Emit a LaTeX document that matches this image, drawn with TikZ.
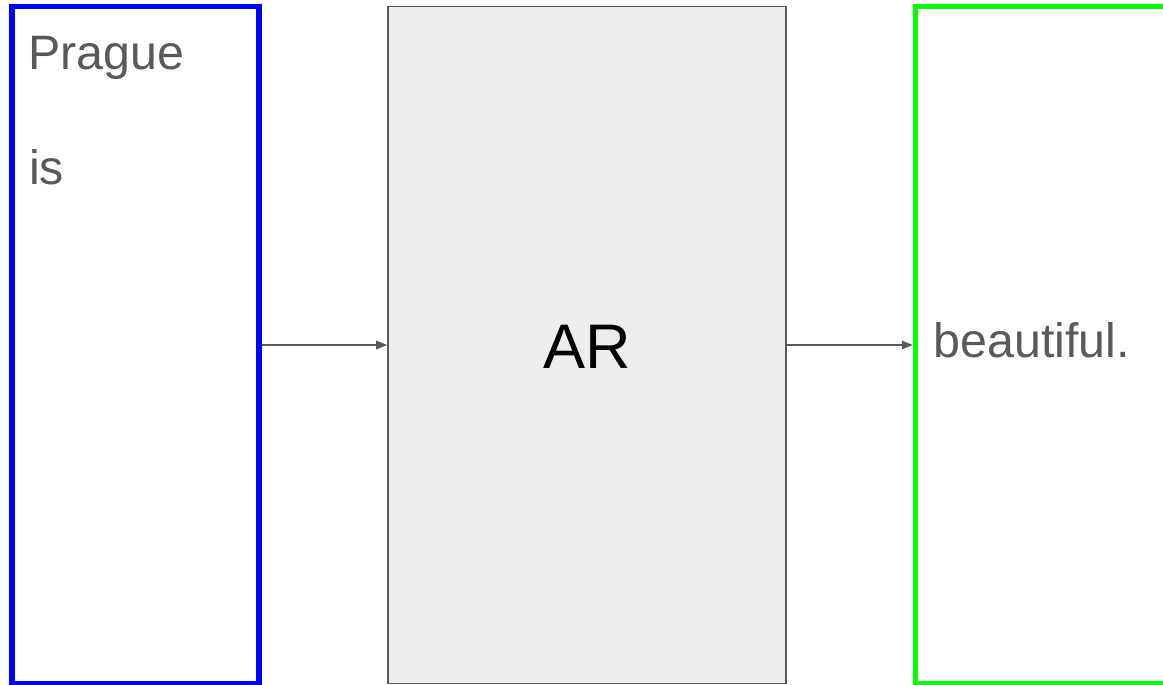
\documentclass[tikz,border=0pt]{standalone}
\usepackage{fontspec}
\setmainfont{Liberation Sans}
\usetikzlibrary{arrows.meta}
\definecolor{txtgray}{HTML}{595959}
\definecolor{boxfill}{HTML}{EDEDED}
\begin{document}
\begin{tikzpicture}[x=1pt,y=-1pt,
  inbox/.style={draw=blue, line width=5.5pt, minimum width=247pt, minimum height=677pt, inner sep=0pt},
  outbox/.style={draw={rgb,255:red,0;green,255;blue,0}, line width=5.5pt, minimum width=300pt, minimum height=677pt, inner sep=0pt},
  model/.style={draw=txtgray, fill=boxfill, line width=1.6pt, minimum width=398pt, minimum height=677pt, inner sep=0pt},
  word/.style={text=txtgray, font=\fontsize{48.3}{58}\selectfont, anchor=base west, inner sep=0pt},
  flow/.style={draw=txtgray, line width=1.5pt, -{Triangle[length=11pt,width=8.5pt]}}
]
\useasboundingbox (0,0) rectangle (1163,685);
% context, model and prediction boxes
\node[inbox] (ctx) at (135.5,345) {};
\node[model] (ar) at (587,345) {};
\node[outbox, anchor=west] (pred) at (912.75,345) {};
% labels
\node[anchor=base, inner sep=0pt, font=\fontsize{63}{75}\selectfont] (arlabel) at (587,368) {AR};
\node[word] (prague) at (28,69.5) {Prague};
\node[word] (is) at (29,184) {is};
\node[word] (beautiful) at (933.5,357.3) {beautiful.};
% connections
\draw[flow] (ctx.east) -- (ar.west);
\draw[flow] (ar.east) -- (pred.west);
\end{tikzpicture}
\end{document}
